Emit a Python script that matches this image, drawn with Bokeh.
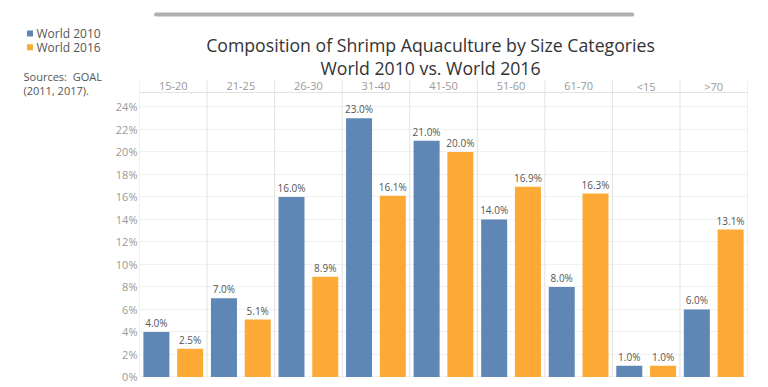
from bokeh.plotting import figure
from bokeh.models import FactorRange, Range1d, FixedTicker, Span, ColumnDataSource
from bokeh.layouts import row
from bokeh.core.properties import value
from bokeh.embed import file_html
from bokeh.resources import INLINE

categories = ["15-20", "21-25", "26-30", "31-40", "41-50", "51-60", "61-70", "<15", ">70"]
series = ["World 2010", "World 2016"]
world_2010 = [4.0, 7.0, 16.0, 23.0, 21.0, 14.0, 8.0, 1.0, 6.0]
world_2016 = [2.5, 5.1, 8.9, 16.1, 20.0, 16.9, 16.3, 1.0, 13.1]
y_ticks = [0, 2, 4, 6, 8, 10, 12, 14, 16, 18, 20, 22, 24]
title_lines = ["Composition of Shrimp Aquaculture by Size Categories", "World 2010 vs. World 2016"]
source_lines = ["Sources:\u00a0\u00a0GOAL", "(2011, 2017)."]

BLUE = "#5e87b5"
ORANGE = "#fcaa35"
COLORS = [BLUE, ORANGE]
FONT = "Open Sans"

# page-pixel helpers for the main chart's vertical scale (0% at y=376.5, 11.25 px per %)
PX_PER_PCT = 11.25
Y0 = 376.5


def ydat(py):
    return (Y0 - py) / PX_PER_PCT


# ---------------- left panel: legend + sources ----------------
LEFT_W = 112
left = figure(width=LEFT_W, height=387, x_range=Range1d(0, LEFT_W), y_range=Range1d(387, 0),
              output_backend="svg", toolbar_location=None,
              min_border_left=0, min_border_right=0, min_border_top=0, min_border_bottom=0)
left.axis.visible = False
left.grid.visible = False
left.outline_line_color = None

leg = ColumnDataSource(dict(x=[29.5, 29.5], y=[34, 48], c=COLORS, t=series))
left.scatter(x="x", y="y", marker="square", size=6, fill_color="c", line_color=None, source=leg)
left.text(x=36, y="y", text="t", source=leg, text_baseline="middle", text_align="left",
          text_font=value(FONT), text_font_size="12px", text_color="#555555")
srcs = ColumnDataSource(dict(y=[78, 92], t=source_lines))
left.text(x=23, y="y", text="t", source=srcs, text_baseline="middle", text_align="left",
          text_font=value(FONT), text_font_size="11px", text_color="#555555")

# ---------------- main chart ----------------
factors = [(c, s) for c in categories for s in series]
x_range = FactorRange(*factors, factor_padding=0, group_padding=0, range_padding=0)

MAIN_W = 768 - LEFT_W
FRAME_L = 139 - LEFT_W
FRAME_R = 747 - LEFT_W
p = figure(width=MAIN_W, height=387, x_range=x_range, y_range=Range1d(-0.05, ydat(0)),
           output_backend="svg", toolbar_location=None,
           min_border_left=FRAME_L, min_border_right=MAIN_W - FRAME_R,
           min_border_top=0, min_border_bottom=10)
p.outline_line_color = None
p.xaxis.visible = False
p.xgrid.visible = False
p.ygrid.ticker = FixedTicker(ticks=y_ticks)
p.ygrid.grid_line_color = "#f0f0f0"

p.yaxis.ticker = FixedTicker(ticks=y_ticks)
p.yaxis.major_label_overrides = {t: f"{t}%" for t in y_ticks}
p.yaxis.axis_line_color = None
p.yaxis.major_tick_line_color = None
p.yaxis.minor_tick_line_color = None
p.yaxis.major_tick_out = 0
p.yaxis.major_tick_in = 0
p.yaxis.major_label_standoff = 2
p.yaxis.major_label_text_color = "#999999"
p.yaxis.major_label_text_font = FONT
p.yaxis.major_label_text_font_size = "11px"

# header separators and header bottom line
n = len(categories)
p.segment(x0=[2 * i for i in range(n + 1)], x1=[2 * i for i in range(n + 1)],
          y0=-0.05, y1=ydat(80), line_color="#e2e2e2", line_width=1)
p.add_layout(Span(location=ydat(92), dimension="width", line_color="#e2e2e2", line_width=1))

src1 = ColumnDataSource(dict(x=[(c, series[0]) for c in categories], y=world_2010,
                             lab=[f"{v:.1f}%" for v in world_2010]))
src2 = ColumnDataSource(dict(x=[(c, series[1]) for c in categories], y=world_2016,
                             lab=[f"{v:.1f}%" for v in world_2016]))

p.vbar(x="x", top="y", width=0.77, source=src1, fill_color=BLUE, line_color=None)
p.vbar(x="x", top="y", width=0.77, source=src2, fill_color=ORANGE, line_color=None)

for src in (src1, src2):
    p.text(x="x", y="y", text="lab", source=src, text_align="center", text_baseline="bottom",
           y_offset=-2, text_font=value(FONT), text_font_size="10px", text_color="#555555")

hdr = ColumnDataSource(dict(x=categories, y=[ydat(86)] * n, t=categories))
p.text(x="x", y="y", text="t", source=hdr, text_align="center", text_baseline="middle",
       text_font=value(FONT), text_font_size="11px", text_color="#999999")

# title
ttl = ColumnDataSource(dict(x=[categories[4]] * 2, y=[ydat(45), ydat(68)], t=title_lines))
p.text(x="x", y="y", text="t", source=ttl, text_align="center", text_baseline="middle",
       x_offset=-13, text_font=value(FONT), text_font_size="17.7px", text_color="#333333")

# top scroll-bar artefact
p.segment(x0=[0.49], x1=[14.59], y0=ydat(14), y1=ydat(14), line_color="#b0b0b0",
          line_width=4, line_cap="round")

open("out.html", "w").write(file_html(row(left, p), INLINE))
